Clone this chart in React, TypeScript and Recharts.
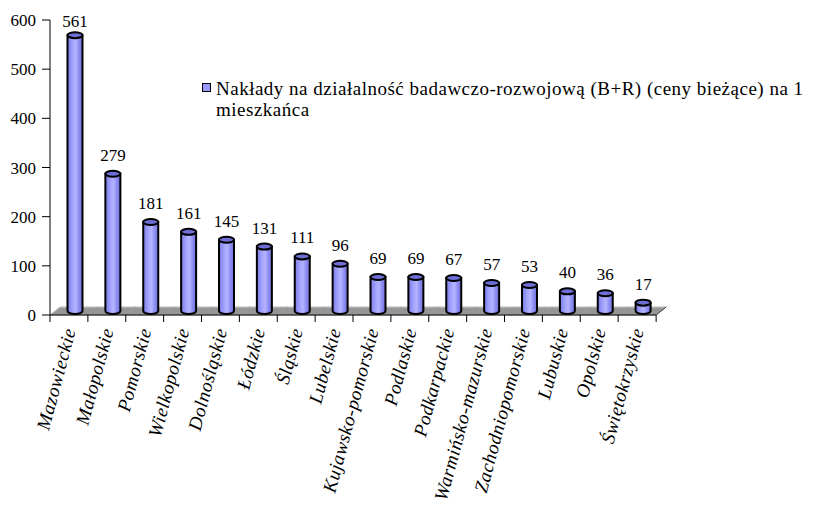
import { BarChart, Bar, XAxis, YAxis, LabelList } from 'recharts';

const regions = [
  'Mazowieckie', 'Małopolskie', 'Pomorskie', 'Wielkopolskie', 'Dolnośląskie', 'Łódzkie',
  'Śląskie', 'Lubelskie', 'Kujawsko-pomorskie', 'Podlaskie', 'Podkarpackie',
  'Warmińsko-mazurskie', 'Zachodniopomorskie', 'Lubuskie', 'Opolskie', 'Świętokrzyskie'
];
const spending = [561, 279, 181, 161, 145, 131, 111, 96, 69, 69, 67, 57, 53, 40, 36, 17];
const yTicks = [0, 100, 200, 300, 400, 500, 600];
const seriesName = 'Nakłady na działalność badawczo-rozwojową (B+R) (ceny bieżące) na 1 mieszkańca';

const data = regions.map((name, i) => ({ name, value: spending[i] }));

const FONT = "'Liberation Serif', serif";
const DX = 10; // depth of the floor
const DY = 8;

const Cylinder = (props: any) => {
  const { x, y, width, height, index } = props;
  const y0 = y + height;
  const cx = x + width / 2 + 6;
  const rx = 7.5;
  const ry = 3;
  const bot = y0 - 4;
  const top = y - 4;
  const last = index === spending.length - 1;
  return (
    <g>
      {index === 0 && (
        <defs>
          <linearGradient id="cyl" x1="0" y1="0" x2="1" y2="0">
            <stop offset="0%" stopColor="#7a7ae8" />
            <stop offset="35%" stopColor="#a4a4ff" />
            <stop offset="55%" stopColor="#b4b4ff" />
            <stop offset="75%" stopColor="#9090f4" />
            <stop offset="100%" stopColor="#6c6cd8" />
          </linearGradient>
        </defs>
      )}
      <polygon
        points={`${x},${y0} ${x + width},${y0} ${x + width + DX},${y0 - DY} ${x + DX},${y0 - DY}`}
        fill="#969696"
        stroke="#969696"
        strokeWidth={0.6}
      />
      <line x1={x + DX} y1={y0 - DY} x2={x + width + DX} y2={y0 - DY} stroke="#d0d0d0" strokeWidth={1} />
      {index === 0 && <line x1={x} y1={y0} x2={x + DX} y2={y0 - DY} stroke="#c8c8c8" strokeWidth={1} />}
      {last && <line x1={x + width} y1={y0} x2={x + width + DX} y2={y0 - DY} stroke="#404040" strokeWidth={1} />}
      <line x1={x} y1={y0} x2={x} y2={y0 + 7} stroke="#000" strokeWidth={1} />
      {last && <line x1={x + width} y1={y0} x2={x + width} y2={y0 + 7} stroke="#000" strokeWidth={1} />}
      <path
        d={`M${cx - rx},${top} L${cx - rx},${bot} A${rx},${ry} 0 0 0 ${cx + rx},${bot} L${cx + rx},${top} Z`}
        fill="url(#cyl)"
        stroke="#000"
        strokeWidth={2}
      />
      <ellipse cx={cx} cy={top} rx={rx} ry={ry} fill="#6e6ed6" stroke="#000" strokeWidth={2} />
    </g>
  );
};

const ValueLabel = (props: any) => {
  const { x, y, width, value } = props;
  return (
    <text x={x + width / 2 + 6} y={Math.max(y - 17, 27)} textAnchor="middle" style={{ fontFamily: FONT }} fontSize={17} fill="#000">
      {value}
    </text>
  );
};

const RegionTick = (props: any) => {
  const { x, payload } = props;
  const ax = x + 7;
  const ay = 330;
  return (
    <text
      x={ax}
      y={ay}
      transform={`rotate(-75, ${ax}, ${ay})`}
      textAnchor="end"
      style={{ fontFamily: FONT, fontStyle: 'italic', letterSpacing: 0.5 }}
      fontSize={19}
      fill="#000"
    >
      {payload.value}
    </text>
  );
};

export default function App() {
  return (
    <div style={{ position: 'absolute', left: 0, top: 0, width: 819, height: 511, background: '#fff', overflow: 'hidden' }}>
      <BarChart
        width={819}
        height={511}
        data={data}
        margin={{ top: 20, right: 163, left: 0, bottom: 6 }}
        barCategoryGap={0}
      >
        <XAxis
          dataKey="name"
          interval={0}
          height={190}
          tickLine={false}
          axisLine={{ stroke: '#000', strokeWidth: 1 }}
          tick={<RegionTick />}
        />
        <YAxis
          width={50}
          domain={[0, 600]}
          ticks={yTicks}
          interval={0}
          axisLine={{ stroke: '#000', strokeWidth: 1 }}
          tickLine={{ stroke: '#000', strokeWidth: 1 }}
          tickSize={8}
          tickMargin={6}
          tick={{ fill: '#000', fontSize: 17, style: { fontFamily: FONT } }}
        />
        <Bar dataKey="value" name={seriesName} shape={<Cylinder />} isAnimationActive={false}>
          <LabelList dataKey="value" content={<ValueLabel />} />
        </Bar>
      </BarChart>
      <div
        style={{
          position: 'absolute',
          left: 202,
          top: 78,
          width: 588,
          fontFamily: FONT,
          fontSize: 19,
          letterSpacing: 0.5,
          lineHeight: '21px',
          color: '#000',
          paddingLeft: 14,
        }}
      >
        <span
          style={{
            position: 'absolute',
            left: 0,
            top: 5,
            width: 7,
            height: 7,
            background: '#9999ff',
            border: '1.5px solid #000',
          }}
        />
        {seriesName}
      </div>
    </div>
  );
}
